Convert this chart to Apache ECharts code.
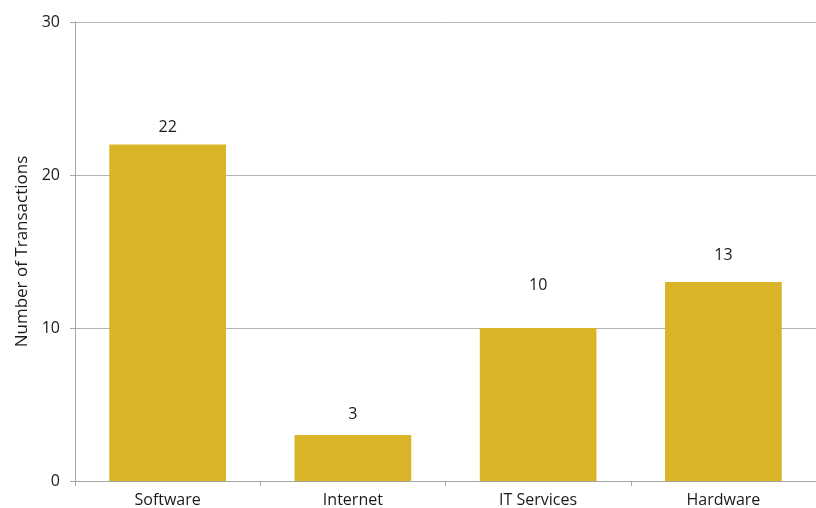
<!DOCTYPE html>
<html>
<head>
<meta charset="utf-8">
<script src="https://cdn.jsdelivr.net/npm/echarts@6/dist/echarts.min.js"></script>
<style>
html,body{margin:0;padding:0;background:#fff;overflow:hidden;}
#c{width:816px;height:508px;}
</style>
</head>
<body>
<div id="c"></div>
<script>
const categories = ['Software', 'Internet', 'IT Services', 'Hardware'];
const transactions = [22, 3, 10, 13];
const yTicks = [0, 10, 20, 30];

// label offsets above bars (style only)
const labelGaps = [9, 13, 35, 19];

const FONT = '"Open Sans", sans-serif';
const chart = echarts.init(document.getElementById('c'), null, {renderer: 'canvas', width: 816, height: 508});
chart.setOption({
  animation: false,
  backgroundColor: '#ffffff',
  grid: {left: 75, top: 22, width: 746, height: 459, containLabel: false},
  xAxis: {
    type: 'category',
    data: categories,
    axisLine: {show: true, lineStyle: {color: '#a6a6a6', width: 1}},
    axisTick: {show: true, length: 5, alignWithLabel: false, lineStyle: {color: '#a6a6a6'}},
    axisLabel: {color: '#1a1a1a', fontFamily: FONT, fontSize: 16, margin: 11, interval: 0}
  },
  yAxis: {
    type: 'value',
    min: yTicks[0],
    max: yTicks[yTicks.length - 1],
    interval: 10,
    name: 'Number of Transactions',
    nameLocation: 'middle',
    nameRotate: 90,
    nameGap: 44,
    nameTextStyle: {color: '#1a1a1a', fontFamily: FONT, fontSize: 17},
    axisLine: {show: true, lineStyle: {color: '#a6a6a6', width: 1}},
    axisTick: {show: true, length: 5, lineStyle: {color: '#a6a6a6'}},
    axisLabel: {color: '#1a1a1a', fontFamily: FONT, fontSize: 16, margin: 15},
    splitLine: {show: true, lineStyle: {color: '#b3b3b3', width: 1}}
  },
  series: [{
    type: 'bar',
    barCategoryGap: '37%',
    itemStyle: {color: '#d9b427'},
    data: transactions.map((v, i) => ({
      value: v,
      label: {distance: labelGaps[i]}
    })),
    label: {
      show: true,
      position: 'top',
      color: '#1a1a1a',
      fontFamily: FONT,
      fontSize: 16
    }
  }]
});
</script>
</body>
</html>
